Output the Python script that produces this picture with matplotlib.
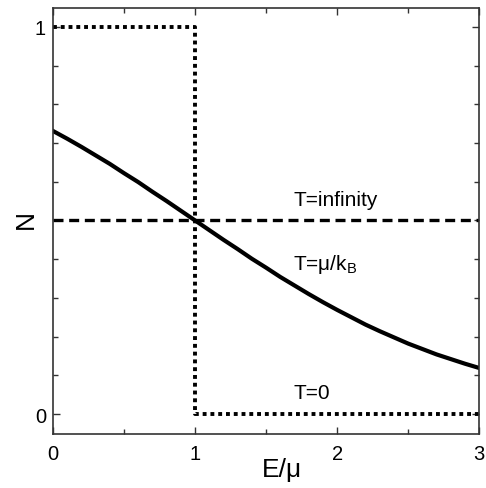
import matplotlib
matplotlib.use("Agg")
import matplotlib.pyplot as plt
from matplotlib.ticker import FixedLocator

plt.rcParams['font.family'] = ['Liberation Sans', 'DejaVu Sans']

# Solid curve T = mu/kB
E_curve = [0.0, 0.1, 0.2, 0.3, 0.4, 0.5, 0.6, 0.7, 0.8, 0.9, 1.0,
           1.1, 1.2, 1.3, 1.4, 1.5, 1.6, 1.7, 1.8, 1.9, 2.0,
           2.1, 2.2, 2.3, 2.4, 2.5, 2.6, 2.7, 2.8, 2.9, 3.0]
N_curve = [0.731, 0.711, 0.690, 0.668, 0.646, 0.622, 0.599, 0.574, 0.550, 0.525, 0.500,
           0.475, 0.450, 0.426, 0.401, 0.378, 0.354, 0.332, 0.310, 0.289, 0.269,
           0.250, 0.231, 0.214, 0.198, 0.182, 0.168, 0.154, 0.142, 0.130, 0.119]

# T = 0 step
E_step = [0.0, 1.0, 1.0, 3.0]
N_step = [1.0, 1.0, 0.0, 0.0]

# T = infinity
E_inf = [0.0, 3.0]
N_inf = [0.5, 0.5]

labels = ["T=infinity", r"T=μ/k$_\mathregular{B}$", "T=0"]
label_x = [1.69, 1.69, 1.69]
label_y = [0.53, 0.36, 0.03]

fig = plt.figure(figsize=(4.86, 4.89), dpi=100)
ax = fig.add_axes([0.109, 0.110, 0.877, 0.872])

ax.plot(E_step, N_step, color='black', lw=2.8, linestyle=(0, (1.0, 1.0)), dash_capstyle='butt')
ax.plot(E_inf, N_inf, color='black', lw=2.4, linestyle=(0, (3.0, 1.7)), dash_capstyle='butt')
ax.plot(E_curve, N_curve, color='black', lw=3.0)

for t, x, y in zip(labels, label_x, label_y):
    ax.text(x, y, t, fontsize=15, ha='left', va='bottom')

ax.set_xlim(0, 3)
ax.set_ylim(-0.052, 1.049)

ax.xaxis.set_major_locator(FixedLocator([0, 1, 2, 3]))
ax.xaxis.set_minor_locator(FixedLocator([0.5, 1.5, 2.5]))
ax.yaxis.set_major_locator(FixedLocator([0, 1]))
ax.yaxis.set_minor_locator(FixedLocator([0.1, 0.2, 0.3, 0.4, 0.5, 0.6, 0.7, 0.8, 0.9]))

ax.tick_params(which='both', direction='in', top=True, right=True, labelsize=14.5, color='#333333', width=1)
ax.tick_params(which='major', length=5)
ax.tick_params(which='minor', length=3.5)
ax.tick_params(axis='x', which='major', pad=7)
ax.tick_params(axis='y', which='major', pad=5)

for s in ax.spines.values():
    s.set_color('#333333')
    s.set_linewidth(1.2)

ax.set_xlabel("E/μ", fontsize=19)
ax.xaxis.set_label_coords(0.538, -0.054)
ax.set_ylabel("N", fontsize=19)
ax.yaxis.set_label_coords(-0.036, 0.505)

fig.savefig("out.png", dpi=100)
